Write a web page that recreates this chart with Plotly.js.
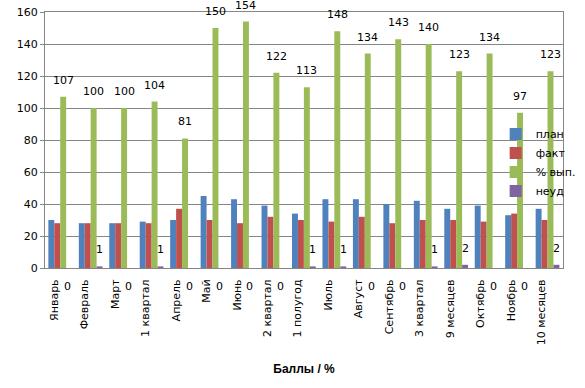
<!DOCTYPE html>
<html><head><meta charset="utf-8">
<script src="https://cdn.plot.ly/plotly-3.0.1.min.js"></script>
<style>html,body{margin:0;padding:0;background:#fff}#chart{width:585px;height:388px}</style>
</head><body><div id="chart"></div>
<script>
const categories = ["Январь","Февраль","Март","1 квартал","Апрель","Май","Июнь","2 квартал","1 полугод","Июль","Август","Сентябрь","3 квартал","9 месяцев","Октябрь","Ноябрь","10 месяцев"];
const plan = [30,28,28,29,30,45,43,39,34,43,43,40,42,37,39,33,37];
const fact = [28,28,28,28,37,30,28,32,30,29,32,28,30,30,29,34,30];
const pct = [107,100,100,104,81,150,154,122,113,148,134,143,140,123,134,97,123];
const neud = [0,1,0,1,0,0,0,0,1,1,0,0,1,2,0,0,2];

const W = 585, H = 388, M = {l:45, r:22, t:12, b:120, autoexpand:false};
const bargap = 0.22;
const catW = (W - M.l - M.r) / categories.length;
const barW = catW * (1 - bargap) / 4;

const lblFont = {family:"DejaVu Sans, Liberation Sans, Arial, sans-serif", size:11, color:"#000"};
const traces = [
  {type:"bar", name:"план", x:categories, y:plan, marker:{color:"#4F81BD"}},
  {type:"bar", name:"факт", x:categories, y:fact, marker:{color:"#C0504D"}},
  {type:"bar", name:"% вып.", x:categories, y:pct, marker:{color:"#9BBB59"}},
  {type:"bar", name:"неуд", x:categories, y:neud, marker:{color:"#8064A2"}}
];
const annotations = [];
categories.forEach((c, i) => {
  annotations.push({x:c, y:pct[i], xref:"x", yref:"y", text:String(pct[i]), showarrow:false,
    xshift:barW*0.5, yshift:8, yanchor:"bottom", font:lblFont});
  const z = neud[i] === 0;
  annotations.push({x:c, y:neud[i], xref:"x", yref:"y", text:String(neud[i]), showarrow:false,
    xshift:z ? 7 : barW*1.5, yshift:z ? -10 : 8, yanchor:z ? "top" : "bottom", font:lblFont});
});
const layout = {
  width:W, height:H,
  margin:M,
  paper_bgcolor:"#fff", plot_bgcolor:"#fff",
  font:{family:"DejaVu Sans, Liberation Sans, Arial, sans-serif", size:11, color:"#000"},
  barmode:"group", bargap:bargap, bargroupgap:0,
  showlegend:true,
  legend:{x:0.87, y:0.58, xanchor:"left", yanchor:"top", bgcolor:"rgba(0,0,0,0)",
    font:{size:11}, tracegroupgap:0, itemwidth:30},
  annotations:annotations,
  xaxis:{type:"category", tickangle:-90, showline:true, linecolor:"#868686", mirror:true,
    ticks:"", showgrid:false, tickfont:{size:11}, ticklabelstandoff:6, ticklabelshift:-6,
    title:{text:"Баллы / %", font:{family:"Liberation Sans Narrow, Liberation Sans, Arial", size:12, weight:"bold"}, standoff:20}},
  yaxis:{range:[0,160], dtick:20, showgrid:true, gridcolor:"#868686", showline:true, linecolor:"#868686",
    mirror:true, ticks:"outside", ticklen:4, tickcolor:"#868686", tickfont:{size:11}, zeroline:false}
};
Plotly.newPlot("chart", traces, layout, {displayModeBar:false, staticPlot:true});
</script></body></html>
